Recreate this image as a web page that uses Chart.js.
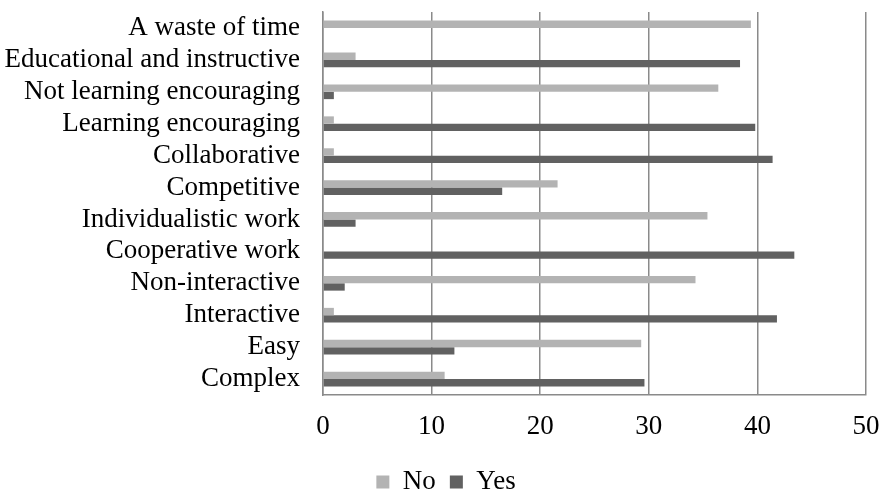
<!DOCTYPE html>
<html>
<head>
<meta charset="utf-8">
<script src="https://cdn.jsdelivr.net/npm/chart.js@4.4.0/dist/chart.umd.min.js"></script>
<style>
  html, body { margin: 0; padding: 0; background: #ffffff; }
  #wrap { width: 884px; height: 490px; position: relative; }
</style>
</head>
<body>
<div id="wrap"><canvas id="c"></canvas></div>
<script>
const categories = [
  "A waste of time",
  "Educational and instructive",
  "Not learning encouraging",
  "Learning encouraging",
  "Collaborative",
  "Competitive",
  "Individualistic work",
  "Cooperative work",
  "Non-interactive",
  "Interactive",
  "Easy",
  "Complex"
];
const noValues  = [39.4, 3, 36.4, 1, 1, 21.6, 35.4, 0, 34.3, 1, 29.3, 11.2];
const yesValues = [0, 38.4, 1, 39.8, 41.4, 16.5, 3, 43.4, 2, 41.8, 12.1, 29.6];
const xTicks = [0, 10, 20, 30, 40, 50];

const FONT = '"Liberation Serif", "Times New Roman", serif';
const GRID = '#8a8a8a';

const legendShift = {
  id: 'legendShift',
  afterLayout(chart) {
    const lg = chart.legend;
    if (!lg) return;
    lg.left += 13; lg.right += 13;
    lg.top += 15.5; lg.bottom += 15.5;
  }
};

new Chart(document.getElementById('c'), {
  type: 'bar',
  data: {
    labels: categories,
    datasets: [
      { label: 'No',  data: noValues,  backgroundColor: '#b3b3b3', borderWidth: 0,
        categoryPercentage: 0.46, barPercentage: 1 },
      { label: 'Yes', data: yesValues, backgroundColor: '#616161', borderWidth: 0,
        categoryPercentage: 0.46, barPercentage: 1 }
    ]
  },
  plugins: [legendShift],
  options: {
    indexAxis: 'y',
    responsive: true,
    maintainAspectRatio: false,
    animation: false,
    devicePixelRatio: 1,
    layout: { padding: { top: 12, right: 18, left: 0, bottom: 0 } },
    scales: {
      x: {
        min: xTicks[0],
        max: xTicks[xTicks.length - 1],
        afterBuildTicks: (s) => { s.ticks = xTicks.map(v => ({ value: v })); },
        afterFit: (s) => { s.height = 44; s.paddingLeft = 0; s.paddingRight = 0; },
        grid: { color: GRID, lineWidth: 1.5, drawTicks: false },
        border: { display: true, color: GRID, width: 1.5 },
        ticks: { color: '#000', font: { family: FONT, size: 27 }, padding: 15.5 }
      },
      y: {
        afterFit: (s) => { s.width = 323; s.paddingTop = 0; s.paddingBottom = 0; },
        grid: { display: false, drawTicks: false },
        border: { display: true, color: GRID, width: 1.5 },
        ticks: { color: '#000', font: { family: FONT, size: 27 }, padding: 23, autoSkip: false }
      }
    },
    plugins: {
      tooltip: { enabled: false },
      legend: {
        position: 'bottom',
        labels: {
          color: '#000',
          font: { family: FONT, size: 27 },
          boxWidth: 13,
          boxHeight: 13,
          padding: 14
        }
      }
    }
  }
});
</script>
</body>
</html>
